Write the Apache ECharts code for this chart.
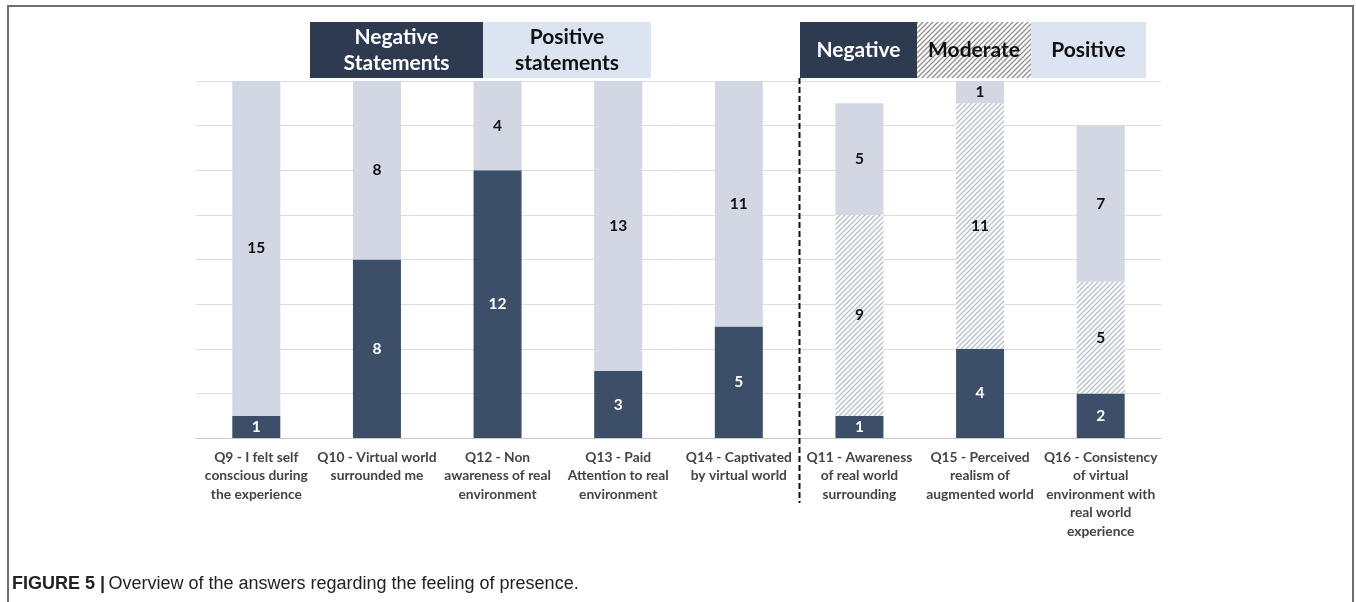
<!DOCTYPE html>
<html>
<head>
<meta charset="utf-8">
<script src="https://cdn.jsdelivr.net/npm/echarts@6/dist/echarts.min.js"></script>
<style>
html,body{margin:0;padding:0;background:#fff;}
#chart{width:1356px;height:602px;}
</style>
</head>
<body>
<div id="chart"></div>
<script>
// ---- data ----
const categories = [
  'Q9 - I felt self\nconscious during\nthe experience',
  'Q10 - Virtual world\nsurrounded me',
  'Q12 - Non\nawareness of real\nenvironment',
  'Q13 - Paid\nAttention to real\nenvironment',
  'Q14 - Captivated\nby virtual world',
  'Q11 - Awareness\nof real world\nsurrounding',
  'Q15 - Perceived\nrealism of\naugmented world',
  'Q16 - Consistency\nof virtual\nenvironment with\nreal world\nexperience'
];
const negative = [1, 8, 12, 3, 5, 1, 4, 2];
const moderate = [null, null, null, null, null, 9, 11, 5];
const positive = [15, 8, 4, 13, 11, 5, 1, 7];
const yMin = 0, yMax = 16, yInterval = 2;
const caption = 'Overview of the answers regarding the feeling of presence.';

// ---- styles ----
const DARK = '#3d4f68';
const LIGHT = '#d3d6e3';
const FONT = 'Lato';

function hatch(color, bg, size, lw) {
  const c = document.createElement('canvas');
  c.width = size; c.height = size;
  const g = c.getContext('2d');
  g.fillStyle = bg; g.fillRect(0, 0, size, size);
  g.strokeStyle = color; g.lineWidth = lw;
  g.beginPath();
  g.moveTo(-1, size + 1); g.lineTo(size + 1, -1);
  g.moveTo(-1, 1); g.lineTo(1, -1);
  g.moveTo(size - 1, size + 1); g.lineTo(size + 1, size - 1);
  g.stroke();
  return c;
}
const barHatch = hatch('#b7c0cd', '#ffffff', 5, 1.3);
const legendHatch = hatch('#8f8f8f', '#ffffff', 5, 1.3);

const chart = echarts.init(document.getElementById('chart'));

function lbl(color) {
  return {
    show: true, position: 'inside', color: color,
    fontFamily: FONT, fontWeight: 'bold', fontSize: 15.5,
    formatter: p => (p.value == null ? '' : p.value)
  };
}

const option = {
  animation: false,
  backgroundColor: '#fff',
  grid: { left: 196, right: 195, top: 81, bottom: 164 },
  xAxis: {
    type: 'category', data: categories,
    axisLine: { lineStyle: { color: '#c8c8c8', width: 1 } },
    axisTick: { show: false },
    axisLabel: {
      interval: 0, margin: 10, color: '#444444', fontFamily: FONT,
      fontWeight: 'bold', fontSize: 13.8, lineHeight: 18.5
    }
  },
  yAxis: {
    type: 'value', min: yMin, max: yMax, interval: yInterval,
    axisLabel: { show: false }, axisLine: { show: false }, axisTick: { show: false },
    splitLine: { lineStyle: { color: '#dcdcdc', width: 1 } }
  },
  series: [
    { name: 'Negative', type: 'bar', stack: 'a', data: negative, barWidth: 48,
      itemStyle: { color: DARK }, label: lbl('#ffffff') },
    { name: 'Moderate', type: 'bar', stack: 'a', data: moderate, barWidth: 48,
      itemStyle: { color: { image: barHatch, repeat: 'repeat' } }, label: lbl('#111111') },
    { name: 'Positive', type: 'bar', stack: 'a', data: positive, barWidth: 48,
      itemStyle: { color: LIGHT }, label: lbl('#111111') }
  ]
};
chart.setOption(option);

// separator between the two question groups
const xa = chart.convertToPixel({ xAxisIndex: 0 }, 4);
const xb = chart.convertToPixel({ xAxisIndex: 0 }, 5);
const sepX = Math.round((xa + xb) / 2) + 0.5;

function box(x, w, fill, text, tcolor) {
  return [
    { type: 'rect', shape: { x: x, y: 22, width: w, height: 56 }, style: { fill: fill }, z: 10 },
    { type: 'text', x: x + w / 2, y: 50, z: 11,
      style: { text: text, fill: tcolor, font: 'bold 21px ' + FONT, align: 'center',
               verticalAlign: 'middle', lineHeight: 26 } }
  ];
}

const graphics = [
  { type: 'rect', shape: { x: 8, y: 6, width: 1345, height: 700 },
    style: { fill: null, stroke: '#6e6e6e', lineWidth: 2 }, z: 1 },
  { type: 'line', shape: { x1: sepX, y1: 78, x2: sepX, y2: 503 },
    style: { stroke: '#111', lineWidth: 2, lineDash: [6, 3] }, z: 10 },
  ...box(310, 173, '#2e3a50', 'Negative\nStatements', '#ffffff'),
  ...box(483, 168, '#dce3f1', 'Positive\nstatements', '#111111'),
  ...box(800, 117, '#2e3a50', 'Negative', '#ffffff'),
  ...box(917, 114, { image: legendHatch, repeat: 'repeat' }, 'Moderate', '#111111'),
  ...box(1031, 115, '#dce3f1', 'Positive', '#111111'),
  { type: 'text', x: 12, y: 584, z: 10,
    style: {
      text: '{b|FIGURE 5 |} {n|' + caption + '}',
      verticalAlign: 'middle',
      rich: {
        b: { font: 'bold 18px "Liberation Sans"', fill: '#222' },
        n: { font: '18px "Liberation Sans"', fill: '#222' }
      }
    } }
];
chart.setOption({ graphic: graphics });
</script>
</body>
</html>
